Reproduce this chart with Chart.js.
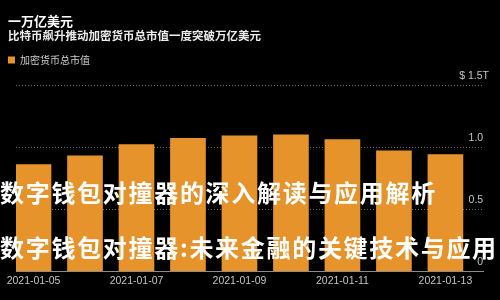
<!DOCTYPE html>
<html lang="zh">
<head>
  <meta charset="UTF-8" />
  <title>一万亿美元</title>
  <script src="https://cdn.jsdelivr.net/npm/chart.js"></script>
  <style>
    html, body { margin: 0; padding: 0; background: #000; }
    canvas { display: block; }
  </style>
</head>
<body>
  <canvas id="capChart" width="500" height="300"></canvas>

  <script>
    const headline = '一万亿美元';
    const subhead = '比特币飙升推动加密货币总市值一度突破万亿美元';
    const seriesName = '加密货币总市值';

    const dates = ['2021-01-05', '2021-01-06', '2021-01-07', '2021-01-08', '2021-01-09',
                   '2021-01-10', '2021-01-11', '2021-01-12', '2021-01-13'];
    // total market cap, trillion USD
    const marketCap = [0.86, 0.93, 1.02, 1.07, 1.09, 1.10, 1.06, 0.97, 0.94];

    const xTickDates = ['2021-01-05', '2021-01-07', '2021-01-09', '2021-01-11', '2021-01-13'];
    const yTicks = [0, 0.5, 1.0, 1.5];
    const yTickLabels = ['0', '0.5', '1.0', '$ 1.5T'];

    const overlayLines = ['数字钱包对撞器的深入解读与应用解析', '数字钱包对撞器:未来金融的关键技术与应用'];

    const tickFont = { family: '"Liberation Sans", Arial, sans-serif', size: 10.5 };
    const cjk = '"Noto Sans CJK SC", sans-serif';

    // legend box needs a bit more room below it
    const legendGap = {
      id: 'legendGap',
      beforeInit(chart) {
        const fit = chart.legend.fit;
        chart.legend.fit = function () {
          fit.call(this);
          this.height += 10;
        };
      }
    };

    // big white lines printed over the bars
    const overlayText = {
      id: 'overlayText',
      afterDraw(chart) {
        const ctx = chart.ctx;
        ctx.save();
        ctx.font = 'bold 24px ' + cjk;
        ctx.fillStyle = '#fff';
        ctx.textBaseline = 'middle';
        ctx.letterSpacing = '1.7px';
        ctx.fillText(overlayLines[0], 0, 193);
        ctx.fillText(overlayLines[1], 0, 248);
        ctx.restore();
      }
    };

    const ctx = document.getElementById('capChart').getContext('2d');
    new Chart(ctx, {
      type: 'bar',
      data: {
        datasets: [{
          label: seriesName,
          data: marketCap.map((v, i) => ({ x: i, y: v })),
          backgroundColor: '#e6932c',
          barThickness: 35
        }]
      },
      options: {
        responsive: false,
        animation: false,
        layout: { padding: { left: 8, right: 17, top: 0, bottom: 10 } },
        plugins: {
          title: {
            display: true,
            text: headline,
            align: 'start',
            color: '#fff',
            font: { family: cjk, size: 13, weight: 'bold' },
            padding: { top: 13, bottom: 0 }
          },
          subtitle: {
            display: true,
            text: subhead,
            align: 'start',
            color: '#ececec',
            font: { family: cjk, size: 11.5, weight: 'bold' },
            padding: { top: 0, bottom: 12.6 }
          },
          legend: {
            align: 'start',
            labels: {
              boxWidth: 7,
              boxHeight: 7,
              padding: 0,
              color: '#cfcfcf',
              font: { family: cjk, size: 10 }
            }
          },
          tooltip: { enabled: false }
        },
        scales: {
          x: {
            type: 'linear',
            offset: false,
            min: -0.34,
            max: 8.73,
            grid: { display: false, offset: false, drawTicks: false },
            border: { display: true, color: '#8c8c8c', width: 1 },
            afterBuildTicks: s => { s.ticks = xTickDates.map(d => ({ value: dates.indexOf(d) })); },
            ticks: {
              autoSkip: false,
              maxRotation: 0,
              color: '#c4c4c4',
              font: tickFont,
              callback: v => dates[v]
            }
          },
          y: {
            position: 'right',
            min: 0,
            max: 1.5,
            afterBuildTicks: s => { s.ticks = yTicks.map(v => ({ value: v })); },
            afterFit: s => { s.width = 0; },
            grid: {
              drawTicks: false,
              color: c => c.tick && c.tick.value === 0 ? 'transparent' : '#707070'
            },
            border: { display: false, dash: [1, 2] },
            ticks: {
              mirror: true,
              padding: 6,
              labelOffset: -9,
              color: '#c4c4c4',
              font: tickFont,
              // figure space keeps the numbers lined up under "$ 1.5" while the T hangs
              callback: v => {
                const lbl = yTickLabels[yTicks.indexOf(v)];
                return lbl.endsWith('T') ? lbl : lbl + '\u2007';
              }
            }
          },
          pad: {
            type: 'linear',
            position: 'left',
            display: true,
            ticks: { display: false },
            grid: { display: false },
            border: { display: false },
            afterFit: s => { s.width = 8; }
          }
        }
      },
      plugins: [legendGap, overlayText]
    });
  </script>
</body>
</html>
